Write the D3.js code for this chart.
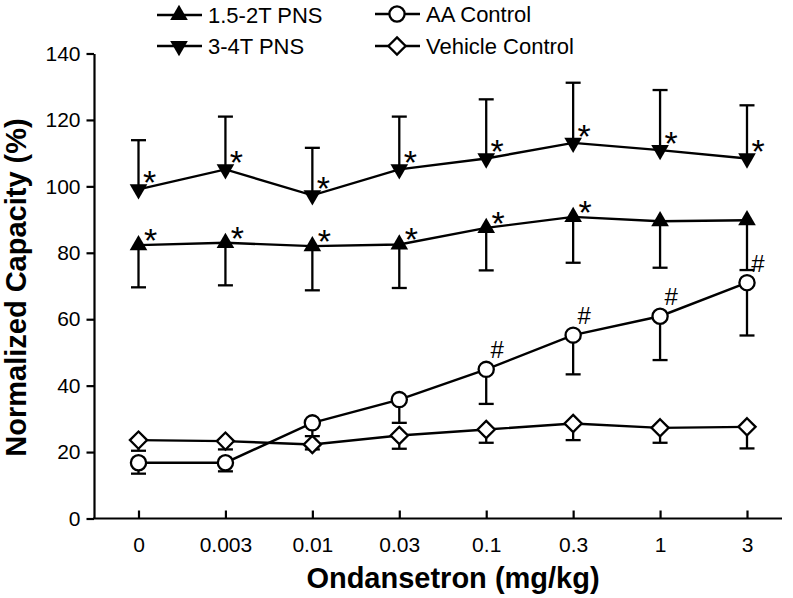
<!DOCTYPE html>
<html>
<head>
<meta charset="utf-8">
<script src="https://cdn.jsdelivr.net/npm/d3@7"></script>
<style>
  html, body { margin: 0; padding: 0; background: #fff; }
  svg { display: block; font-family: "Liberation Sans", Arial, sans-serif; }
</style>
</head>
<body>
<svg id="chart" width="793" height="598"></svg>
<script>
// ---------------- data ----------------
const doses = ["0", "0.003", "0.01", "0.03", "0.1", "0.3", "1", "3"];
const yTicks = [0, 20, 40, 60, 80, 100, 120, 140];

const pns15 = [82.3, 83.0, 82.0, 82.5, 87.5, 90.8, 89.5, 89.8];
const pns15Err = [12.7, 12.8, 13.3, 13.1, 12.8, 13.8, 14.0, 15.0];
const pns15Sig = [1, 1, 1, 1, 1, 1, 0, 0];

const pns34 = [99.1, 105.1, 97.3, 105.1, 108.4, 113.1, 110.9, 108.4];
const pns34Err = [14.8, 15.9, 14.3, 15.9, 17.8, 18.1, 18.1, 16.0];
const pns34Sig = [1, 1, 1, 1, 1, 1, 1, 1];

const aa = [16.8, 16.8, 28.8, 35.8, 44.9, 55.2, 60.9, 71.0];
const aaErr = [3.3, 2.6, 4.0, 7.0, 10.4, 11.8, 13.2, 15.9];
const aaSig = [0, 0, 0, 0, 1, 1, 1, 1];

const vehicle = [23.6, 23.3, 22.3, 25.0, 26.8, 28.6, 27.3, 27.6];
const vehicleErr = [3.2, 2.5, 1.5, 4.0, 4.0, 5.0, 4.5, 6.5];

const legendLabels = ["1.5-2T PNS", "3-4T PNS", "AA Control", "Vehicle Control"];
const xTitle = "Ondansetron (mg/kg)";
const yTitle = "Normalized Capacity (%)";

// ---------------- drawing ----------------
const svg = d3.select("#chart");
const FONT = '"Liberation Sans", Arial, sans-serif';

const axisLeftX = 94, axisRightX = 782;
const x = d3.scalePoint().domain(doses).range([138.5, 747]);
const y = d3.scaleLinear().domain([0, 140]).range([518.5, 53.5]);

// y axis
const gy = svg.append("g").attr("transform", `translate(${axisLeftX},0)`)
  .call(d3.axisLeft(y).tickValues(yTicks).tickSize(7.5).tickSizeOuter(0).tickPadding(6));
gy.select(".domain").attr("stroke-width", 2.2);
gy.selectAll(".tick line").attr("stroke-width", 2.2);
gy.selectAll(".tick text").attr("font-size", 21).attr("font-family", FONT).attr("fill", "#000");

// x axis (ticks pointing up)
const gx = svg.append("g").attr("transform", `translate(0,${y(0)})`)
  .call(d3.axisBottom(x).tickSize(-8).tickSizeOuter(0).tickPadding(27));
gx.select(".domain").remove();
gx.append("line").attr("x1", axisLeftX - 1).attr("x2", axisRightX)
  .attr("stroke", "#000").attr("stroke-width", 2.2);
gx.selectAll(".tick line").attr("stroke-width", 2.2);
gx.selectAll(".tick text").attr("font-size", 21).attr("font-family", FONT).attr("fill", "#000")
  .attr("dy", "0.32em");

// titles
svg.append("text").attr("x", 453).attr("y", 588).attr("text-anchor", "middle")
  .attr("font-size", 29).attr("font-weight", "bold").attr("font-family", FONT).text(xTitle);
svg.append("text").attr("transform", "translate(26,287.5) rotate(-90)").attr("text-anchor", "middle")
  .attr("font-size", 29).attr("font-weight", "bold").attr("font-family", FONT).text(yTitle);

// marker shapes
const triUp = d3.symbol().type(d3.symbolTriangle).size(135)();
function drawMarker(g, kind, cx, cy) {
  if (kind === "up") {
    g.append("path").attr("d", triUp).attr("transform", `translate(${cx},${cy})`).attr("fill", "#000");
  } else if (kind === "down") {
    g.append("path").attr("d", triUp).attr("transform", `translate(${cx},${cy}) rotate(180)`).attr("fill", "#000");
  } else if (kind === "circle") {
    g.append("circle").attr("cx", cx).attr("cy", cy).attr("r", 7.6)
      .attr("fill", "#fff").attr("stroke", "#000").attr("stroke-width", 2.3);
  } else if (kind === "diamond") {
    const s = 8.6;
    g.append("path").attr("d", `M${cx},${cy - s}L${cx + s},${cy}L${cx},${cy + s}L${cx - s},${cy}Z`)
      .attr("fill", "#fff").attr("stroke", "#000").attr("stroke-width", 2.3);
  }
}

const series = [
  { vals: vehicle, err: vehicleErr, dir: 1, kind: "diamond" },
  { vals: aa, err: aaErr, dir: 1, kind: "circle" },
  { vals: pns15, err: pns15Err, dir: 1, kind: "up" },
  { vals: pns34, err: pns34Err, dir: -1, kind: "down" }
];

const line = d3.line().x((d, i) => x(doses[i])).y(d => y(d));
const plot = svg.append("g");

series.forEach(s => {
  const g = plot.append("g");
  // error bars (one-sided)
  s.vals.forEach((v, i) => {
    const cx = x(doses[i]);
    const endV = s.dir > 0 ? v - s.err[i] : v + s.err[i];
    g.append("line").attr("x1", cx).attr("x2", cx).attr("y1", y(v)).attr("y2", y(endV))
      .attr("stroke", "#000").attr("stroke-width", 2.3);
    g.append("line").attr("x1", cx - 7.5).attr("x2", cx + 7.5).attr("y1", y(endV)).attr("y2", y(endV))
      .attr("stroke", "#000").attr("stroke-width", 2.3);
  });
  g.append("path").datum(s.vals).attr("d", line).attr("fill", "none")
    .attr("stroke", "#000").attr("stroke-width", 2.4);
  s.vals.forEach((v, i) => drawMarker(g, s.kind, x(doses[i]), y(v)));
});

// significance marks
function sigMarks(vals, sig, ch, dx, dy, size) {
  vals.forEach((v, i) => {
    if (!sig[i]) return;
    svg.append("text").attr("x", x(doses[i]) + dx).attr("y", y(v) + dy)
      .attr("text-anchor", "middle").attr("font-size", size).attr("font-family", FONT).text(ch);
  });
}
sigMarks(pns34, pns34Sig, "*", 11, 5, 34);
sigMarks(pns15, pns15Sig, "*", 12, 7, 34);
sigMarks(aa, aaSig, "#", 11, -11, 24);

// legend
const legendItems = [
  { label: legendLabels[0], kind: "up", lx: 157, ly: 15 },
  { label: legendLabels[1], kind: "down", lx: 157, ly: 46 },
  { label: legendLabels[2], kind: "circle", lx: 375, ly: 14 },
  { label: legendLabels[3], kind: "diamond", lx: 375, ly: 46 }
];
const lg = svg.append("g");
legendItems.forEach(d => {
  lg.append("line").attr("x1", d.lx).attr("x2", d.lx + 45).attr("y1", d.ly).attr("y2", d.ly)
    .attr("stroke", "#000").attr("stroke-width", 2.4);
  drawMarker(lg, d.kind, d.lx + 22, d.ly);
  lg.append("text").attr("x", d.lx + 51).attr("y", d.ly + 8)
    .attr("font-size", 22).attr("font-family", FONT).text(d.label);
});
</script>
</body>
</html>
